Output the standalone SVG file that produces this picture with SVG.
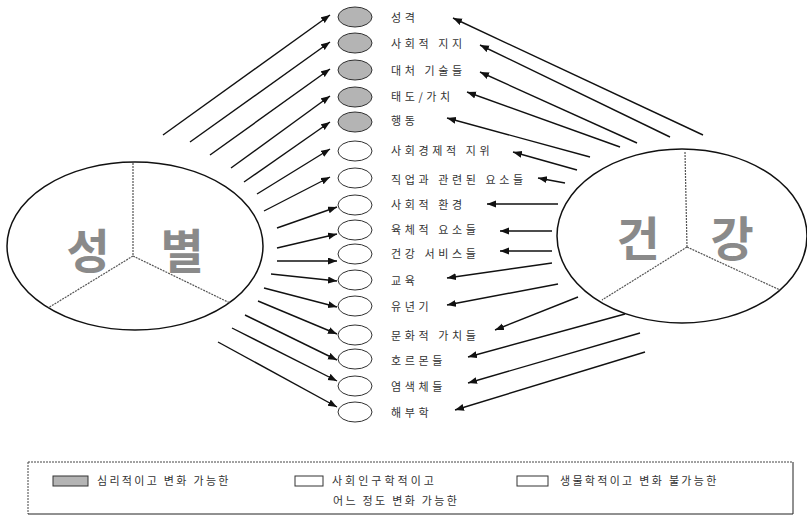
<svg xmlns="http://www.w3.org/2000/svg" width="807" height="516" viewBox="0 0 807 516">
<style>
.lbl{font-family:"Noto Sans CJK KR","Noto Sans",sans-serif;font-size:11px;fill:#333;letter-spacing:3.6px}
.leg{font-family:"Noto Sans CJK KR","Noto Sans",sans-serif;font-size:11px;fill:#333;letter-spacing:2.3px}
.big{font-family:"Noto Sans CJK KR","Noto Sans",sans-serif;font-size:47px;font-weight:bold;fill:#8a8a8a}
.bigE{fill:#fff;stroke:#111;stroke-width:1.5}
.spoke{stroke:#555;stroke-width:1.2;stroke-dasharray:2 1;fill:none}
.g{fill:#b4b4b4;stroke:#333;stroke-width:1}
.w{fill:#fff;stroke:#333;stroke-width:1}
.conn line{stroke:#111;stroke-width:1.4;marker-end:url(#ah)}
</style>
<defs>
<marker id="ah" markerUnits="userSpaceOnUse" markerWidth="10" markerHeight="8" refX="9" refY="3.5" orient="auto">
<path d="M0,0 L9,3.5 L0,7 z" fill="#111"/>
</marker>
</defs>
<rect width="807" height="516" fill="#fff"/>

<g id="gender">
<ellipse class="bigE" cx="135" cy="246" rx="128" ry="84"/>
<path class="spoke" d="M133,163 L133,256 M133,256 L48,308 M133,256 L230,303"/>
<text class="big" x="88" y="268" text-anchor="middle">성</text>
<text class="big" x="182" y="268" text-anchor="middle">별</text>
</g>

<g id="health">
<ellipse class="bigE" cx="682" cy="236" rx="125" ry="87"/>
<path class="spoke" d="M685,152 L687,247 M687,247 L602,300 M687,247 L780,290"/>
<text class="big" x="638" y="256" text-anchor="middle">건</text>
<text class="big" x="732" y="256" text-anchor="middle">강</text>
</g>

<g id="n1"><ellipse class="g" cx="355" cy="17" rx="17" ry="10"/><text class="lbl" x="391" y="22">성격</text></g>
<g id="n2"><ellipse class="g" cx="355" cy="43" rx="17" ry="10"/><text class="lbl" x="391" y="48">사회적 지지</text></g>
<g id="n3"><ellipse class="g" cx="355" cy="70" rx="17" ry="10"/><text class="lbl" x="391" y="75">대처 기술들</text></g>
<g id="n4"><ellipse class="g" cx="355" cy="97" rx="17" ry="10"/><text class="lbl" x="391" y="101">태도/가치</text></g>
<g id="n5"><ellipse class="g" cx="355" cy="122" rx="17" ry="10"/><text class="lbl" x="391" y="125">행동</text></g>
<g id="n6"><ellipse class="w" cx="355" cy="151" rx="17" ry="10"/><text class="lbl" x="391" y="155">사회경제적 지위</text></g>
<g id="n7"><ellipse class="w" cx="355" cy="178" rx="17" ry="10"/><text class="lbl" x="391" y="184">직업과 관련된 요소들</text></g>
<g id="n8"><ellipse class="w" cx="355" cy="205" rx="17" ry="10"/><text class="lbl" x="391" y="209">사회적 환경</text></g>
<g id="n9"><ellipse class="w" cx="355" cy="230" rx="17" ry="10"/><text class="lbl" x="391" y="234">육체적 요소들</text></g>
<g id="n10"><ellipse class="w" cx="355" cy="254" rx="17" ry="10"/><text class="lbl" x="391" y="258">건강 서비스들</text></g>
<g id="n11"><ellipse class="w" cx="355" cy="280" rx="17" ry="10"/><text class="lbl" x="391" y="285">교육</text></g>
<g id="n12"><ellipse class="w" cx="355" cy="306" rx="17" ry="10"/><text class="lbl" x="391" y="311">유년기</text></g>
<g id="n13"><ellipse class="w" cx="355" cy="335" rx="17" ry="10"/><text class="lbl" x="391" y="340">문화적 가치들</text></g>
<g id="n14"><ellipse class="w" cx="355" cy="359" rx="17" ry="10"/><text class="lbl" x="391" y="365">호르몬들</text></g>
<g id="n15"><ellipse class="w" cx="355" cy="386" rx="17" ry="10"/><text class="lbl" x="391" y="391">염색체들</text></g>
<g id="n16"><ellipse class="w" cx="355" cy="412" rx="17" ry="10"/><text class="lbl" x="391" y="417">해부학</text></g>

<g id="connectors" class="conn">
<line x1="163" y1="135" x2="330" y2="15"/>
<line x1="190" y1="142" x2="330" y2="42"/>
<line x1="210" y1="155" x2="330" y2="69"/>
<line x1="231" y1="168" x2="330" y2="96"/>
<line x1="244" y1="182" x2="330" y2="122"/>
<line x1="257" y1="194" x2="330" y2="149"/>
<line x1="264" y1="211" x2="330" y2="177"/>
<line x1="277" y1="228" x2="337" y2="207"/>
<line x1="277" y1="248" x2="337" y2="234"/>
<line x1="277" y1="261" x2="337" y2="261"/>
<line x1="271" y1="274" x2="337" y2="281"/>
<line x1="264" y1="288" x2="337" y2="307"/>
<line x1="258" y1="301" x2="337" y2="334"/>
<line x1="245" y1="315" x2="337" y2="360"/>
<line x1="232" y1="328" x2="337" y2="381"/>
<line x1="218" y1="342" x2="337" y2="407"/>

<line x1="703" y1="135" x2="453" y2="18"/>
<line x1="670" y1="137" x2="480" y2="45"/>
<line x1="637" y1="143" x2="480" y2="72"/>
<line x1="620" y1="147" x2="467" y2="92"/>
<line x1="590" y1="157" x2="447" y2="118"/>
<line x1="577" y1="170" x2="513" y2="152"/>
<line x1="565" y1="183" x2="538" y2="178"/>
<line x1="558" y1="204" x2="487" y2="204"/>
<line x1="552" y1="231" x2="500" y2="231"/>
<line x1="552" y1="251" x2="500" y2="251"/>
<line x1="552" y1="263" x2="447" y2="278"/>
<line x1="558" y1="284" x2="447" y2="305"/>
<line x1="578" y1="297" x2="495" y2="330"/>
<line x1="625" y1="314" x2="468" y2="357"/>
<line x1="640" y1="333" x2="468" y2="383"/>
<line x1="645" y1="352" x2="455" y2="410"/>
</g>

<g id="legend">
<path d="M28,462 H793" stroke="#444" stroke-width="1" stroke-dasharray="2 1" fill="none"/>
<path d="M28,462 V514" stroke="#444" stroke-width="1" stroke-dasharray="2 1" fill="none"/>
<path d="M28,514 H793 V462" stroke="#222" stroke-width="1" fill="none"/>
<rect x="53" y="476" width="35" height="10" fill="#b4b4b4" stroke="#333" stroke-width="1"/>
<text class="leg" x="97" y="485">심리적이고 변화 가능한</text>
<rect x="295" y="476" width="28" height="10" fill="#fff" stroke="#333" stroke-width="1"/>
<text class="leg" x="332" y="485" style="letter-spacing:3px">사회인구학적이고</text>
<text class="leg" x="333" y="505">어느 정도 변화 가능한</text>
<rect x="517" y="476" width="31" height="10" fill="#fff" stroke="#333" stroke-width="1"/>
<text class="leg" x="560" y="485">생물학적이고 변화 불가능한</text>
</g>
</svg>
